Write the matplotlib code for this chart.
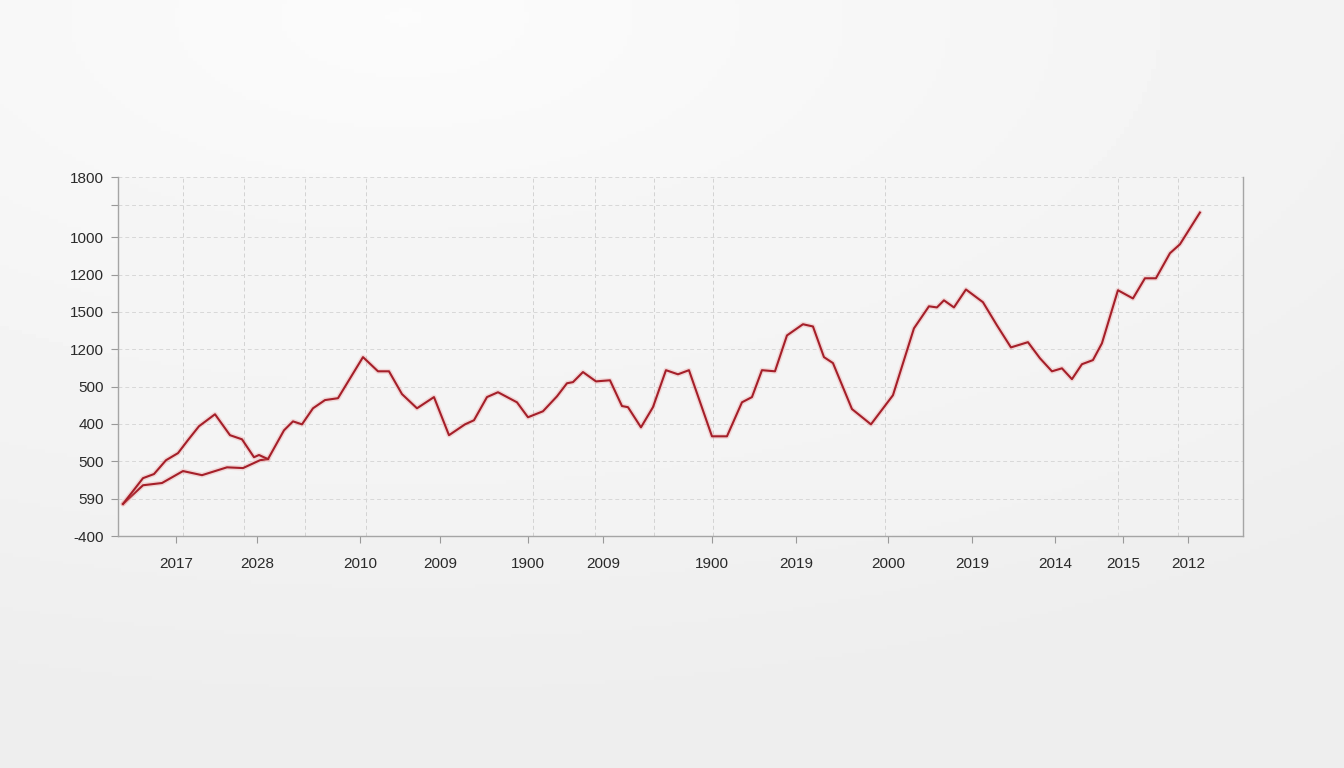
import matplotlib.pyplot as plt
import numpy as np

plt.rcParams['font.family'] = ['Liberation Sans', 'DejaVu Sans']

# main series (x in axis units, y in grid units)
x_main = [5, 25, 36, 48, 60, 70, 81, 97, 112, 124,
          136, 141, 150, 166, 175, 184, 195, 207, 220, 245,
          260, 271, 284, 299, 316, 331, 347, 356, 369, 380,
          399, 410, 425, 439, 449, 455, 465, 478, 492, 504,
          510, 523, 535, 548, 560, 571, 594, 609, 624, 634,
          644, 657, 669, 685, 695, 706, 715, 734, 753, 775,
          796, 811, 819, 826, 836, 848, 865, 879, 893, 910,
          922, 934, 944, 954, 964, 975, 984, 1000, 1015, 1027,
          1038, 1052, 1062, 1082]
y_main = [0.86, 1.55, 1.66, 2.03, 2.22, 2.57, 2.94, 3.26, 2.70, 2.59,
          2.11, 2.17, 2.06, 2.83, 3.07, 2.99, 3.42, 3.64, 3.69, 4.79,
          4.41, 4.41, 3.80, 3.42, 3.72, 2.70, 2.99, 3.10, 3.72, 3.85,
          3.58, 3.18, 3.34, 3.74, 4.09, 4.12, 4.39, 4.14, 4.17, 3.48,
          3.45, 2.91, 3.45, 4.44, 4.33, 4.44, 2.67, 2.67, 3.58, 3.72,
          4.44, 4.41, 5.37, 5.67, 5.61, 4.79, 4.63, 3.40, 2.99, 3.77,
          5.56, 6.15, 6.12, 6.31, 6.12, 6.60, 6.26, 5.64, 5.05, 5.19,
          4.76, 4.41, 4.49, 4.20, 4.60, 4.71, 5.16, 6.58, 6.36, 6.90,
          6.90, 7.57, 7.81, 8.66]

# short lower branch at the start
x_low = [5, 25, 44, 65, 84, 109, 125, 142, 150]
y_low = [0.86, 1.36, 1.42, 1.74, 1.63, 1.84, 1.82, 2.03, 2.06]

y_ticks = [0, 1, 2, 3, 4, 5, 6, 7, 8, 8.85, 9.6]
y_labels = ['-400', '590', '500', '400', '500', '1200', '1500', '1200', '1000', '', '1800']

x_ticks = [58, 139, 242, 322, 410, 485, 594, 678, 770, 854, 937, 1005, 1070]
x_labels = ['2017', '2028', '2010', '2009', '1900', '2009', '1900', '2019',
            '2000', '2019', '2014', '2015', '2012']
x_grid = [65, 126, 187, 248, 415, 477, 536, 595, 767, 937, 1000, 1060]

line_color = '#a51f29'

fig = plt.figure(figsize=(13.44, 7.68), dpi=100)

# soft background gradient
bg = fig.add_axes([0, 0, 1, 1])
gx, gy = np.meshgrid(np.linspace(0, 1, 300), np.linspace(0, 1, 200))
dist = np.sqrt(((gx - 0.3) * 1.1) ** 2 + ((gy - 0.02) * 1.3) ** 2)
shade = 0.985 - 0.045 * np.clip(dist, 0, 1.2)
bg.imshow(shade, cmap='gray', vmin=0, vmax=1, aspect='auto', extent=[0, 1, 1, 0])
bg.axis('off')

ax = fig.add_axes([0.0878, 0.302, 0.837, 0.467])
ax.set_facecolor('#f5f5f5')
ax.patch.set_alpha(0.5)

# faint glow under the lines
for xs, ys in [(x_low, y_low), (x_main, y_main)]:
    ax.plot(xs, ys, color='#e88080', lw=3.6, alpha=0.25, solid_capstyle='round')
    ax.plot(xs, ys, color=line_color, lw=1.5)

ax.set_xlim(0, 1125)
ax.set_ylim(0, 9.6)

ax.set_yticks(y_ticks)
ax.set_yticklabels(y_labels, fontsize=11, color='#2a2a2a')
ax.set_xticks(x_ticks)
ax.set_xticklabels(x_labels, fontsize=11, color='#2a2a2a')
ax.set_xticks(x_grid, minor=True)

ax.tick_params(axis='y', length=5, color='#999999', pad=5)
ax.tick_params(axis='x', which='major', length=5, color='#999999', pad=10)
ax.tick_params(axis='x', which='minor', length=0)

ax.grid(axis='y', which='major', color='#d8d8d8', ls=(0, (4, 3)), lw=0.7)
ax.grid(axis='x', which='minor', color='#d2d2d2', ls=(0, (4, 3)), lw=0.7)

for side in ['left', 'bottom', 'right']:
    ax.spines[side].set_color('#a5a5a5')
    ax.spines[side].set_linewidth(1.0)
ax.spines['top'].set_visible(False)

fig.savefig('out.png', dpi=100)
